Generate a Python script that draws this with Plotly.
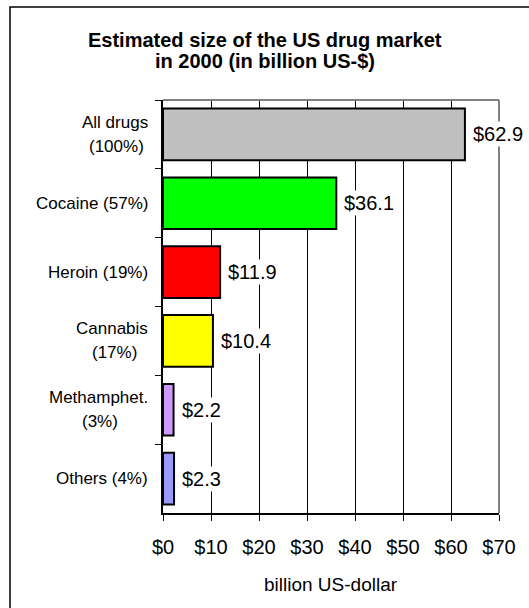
import plotly.graph_objects as go

# Market size by drug type, billion US-$ (2000)
categories = ["All drugs", "Cocaine", "Heroin", "Cannabis", "Methamphet.", "Others"]
shares = ["100%", "57%", "19%", "17%", "3%", "4%"]
values = [62.9, 36.1, 11.9, 10.4, 2.2, 2.3]
colors = ["#C0C0C0", "#00FF00", "#FF0000", "#FFFF00", "#CC99FF", "#9999FF"]
label_lines = [["All drugs", "(100%)"], ["Cocaine (57%)"], ["Heroin (19%)"],
               ["Cannabis", "(17%)"], ["Methamphet.", "(3%)"], ["Others (4%)"]]
title_lines = ["Estimated size of the US drug market", "in 2000 (in billion US-$)"]
x_ticks = [0, 10, 20, 30, 40, 50, 60, 70]
x_tick_text = ["$" + str(v) for v in x_ticks]

FONT = "Arial, 'Liberation Sans', sans-serif"
W, H = 529, 608
L, R, T, B = 163, 30, 100, 95
PW, PH = W - L - R, H - T - B
LABEL_SIZE = 17
LABEL_GAP = 13

# Arial advance widths (1/1000 em) for the characters used in the labels
ADV = {"A": 667, "C": 722, "M": 833, "O": 778, "H": 722,
       "a": 556, "b": 556, "d": 556, "e": 556, "g": 556, "h": 556, "i": 222,
       "l": 222, "m": 833, "n": 556, "o": 556, "p": 556, "r": 333, "s": 500,
       "t": 278, "u": 556, " ": 278, ".": 278, "(": 333, ")": 333, "%": 889}


def text_width(s, size):
    return sum(ADV.get(ch, 556) for ch in s) * size / 1000


def px_x(p):
    return (p - L) / PW


def px_y(p):
    return 1 - (p - T) / PH


fig = go.Figure(go.Bar(
    x=values, y=categories, orientation="h",
    marker=dict(color=colors, line=dict(color="black", width=2)),
    width=0.75, hoverinfo="skip",
))

annotations = []
# value labels to the right of each bar
for c, v in zip(categories, values):
    annotations.append(dict(
        x=v, y=c, xref="x", yref="y", text=f"${v:.1f}", showarrow=False,
        xanchor="left", xshift=6, bgcolor="white", borderpad=1,
        font=dict(family=FONT, size=20, color="black"),
    ))
# category labels; the second line of a two-line label is centred under the first
for c, lines in zip(categories, label_lines):
    lab_font = dict(family=FONT, size=LABEL_SIZE, color="black")
    if len(lines) == 1:
        annotations.append(dict(
            x=0, y=c, xref="paper", yref="y", text=lines[0], showarrow=False,
            xanchor="right", xshift=-LABEL_GAP, font=lab_font,
        ))
    else:
        first, second = lines
        centre = -LABEL_GAP - text_width(first, LABEL_SIZE) / 2
        annotations.append(dict(
            x=0, y=c, xref="paper", yref="y", text=first, showarrow=False,
            xanchor="right", xshift=-LABEL_GAP, yshift=12, font=lab_font,
        ))
        annotations.append(dict(
            x=0, y=c, xref="paper", yref="y", text=second, showarrow=False,
            xanchor="center", xshift=centre, yshift=-12, font=lab_font,
        ))
# title, one annotation per line
for line, yc in zip(title_lines, [40, 61]):
    annotations.append(dict(
        x=px_x(265), y=px_y(yc), xref="paper", yref="paper",
        text=f"<b>{line}</b>", showarrow=False,
        xanchor="center", yanchor="middle",
        font=dict(family=FONT, size=20, color="black"),
    ))
# axis title
annotations.append(dict(
    x=0.5, y=px_y(584), xref="paper", yref="paper", text="billion US-dollar",
    showarrow=False, xanchor="center", yanchor="middle",
    font=dict(family=FONT, size=19, color="black"),
))

shapes = [
    # plot-area frame on top and right
    dict(type="line", xref="paper", yref="paper", x0=0, x1=1, y0=1, y1=1,
         line=dict(color="#808080", width=2), layer="above"),
    dict(type="line", xref="paper", yref="paper", x0=1, x1=1, y0=0, y1=1,
         line=dict(color="#808080", width=2), layer="above"),
    # outer chart border
    dict(type="rect", xref="paper", yref="paper",
         x0=px_x(10), x1=px_x(560), y0=px_y(7), y1=px_y(650),
         line=dict(color="black", width=1.5), fillcolor="rgba(0,0,0,0)",
         layer="below"),
]

fig.update_layout(
    width=W, height=H, margin=dict(l=L, r=R, t=T, b=B, pad=0),
    paper_bgcolor="white", plot_bgcolor="white",
    showlegend=False, annotations=annotations, shapes=shapes,
    xaxis=dict(
        range=[0, 70], tickvals=x_ticks, ticktext=x_tick_text,
        showgrid=True, gridcolor="black", gridwidth=1,
        showline=True, linecolor="black", linewidth=2,
        ticks="outside", ticklen=6, tickcolor="black", tickwidth=1,
        ticklabelstandoff=9, zeroline=False,
        tickfont=dict(family=FONT, size=20, color="black"),
    ),
    yaxis=dict(
        categoryorder="array", categoryarray=categories, autorange="reversed",
        showticklabels=False, tickson="boundaries",
        ticks="outside", ticklen=6, tickcolor="black", tickwidth=1,
        showline=True, linecolor="black", linewidth=2, showgrid=False,
        zeroline=False,
    ),
)

fig.write_html("out.html")
